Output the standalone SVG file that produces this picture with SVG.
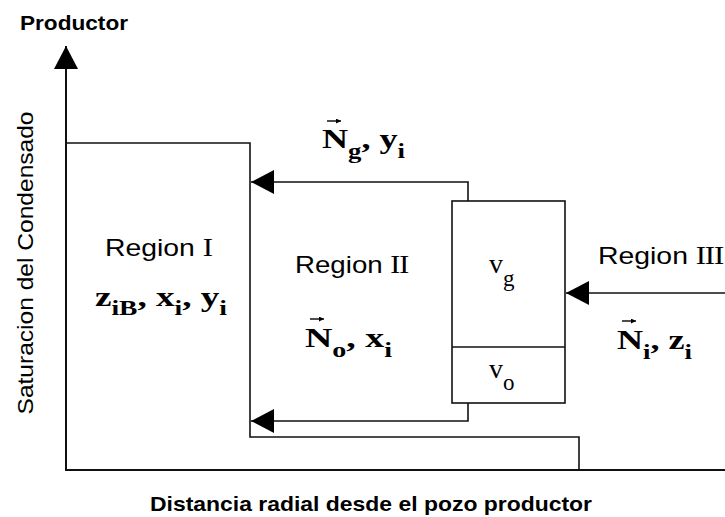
<svg xmlns="http://www.w3.org/2000/svg" width="725" height="517" viewBox="0 0 725 517">
<style>
.ax{fill:none;stroke:#111;stroke-width:2}
.ln{fill:none;stroke:#111;stroke-width:1.6}
.sans{font-family:"Liberation Sans",Arial,sans-serif;fill:#000}
.b{font-weight:bold;font-size:21px}
.reg{font-size:24px}
.rn{font-family:"Liberation Serif","Times New Roman",serif;font-size:26px}
.m{font-family:"Liberation Serif","Times New Roman",serif;font-size:27px;font-weight:bold;fill:#000}
.v{font-family:"Liberation Serif","Times New Roman",serif;font-size:28px;fill:#000}
.sub{font-size:20px;font-weight:bold}
.vsub{font-size:23px}
.vec{fill:none;stroke:#000;stroke-width:1.4}
</style>
<defs>
<marker id="ah" markerUnits="userSpaceOnUse" markerWidth="24" markerHeight="26" refX="23" refY="12" orient="auto">
<path d="M0,0 L23,12 L0,24 Z" fill="#000"/>
</marker>
<marker id="sa" markerUnits="userSpaceOnUse" markerWidth="6" markerHeight="6" refX="5" refY="2.5" orient="auto">
<path d="M0,0 L5,2.5 L0,5 Z" fill="#000"/>
</marker>
</defs>

<g id="axes">
<line class="ax" x1="66" y1="470" x2="66" y2="46" marker-end="url(#ah)"/>
<line class="ax" x1="65" y1="470" x2="725" y2="470"/>
<text class="sans b" x="20" y="30" textLength="108" lengthAdjust="spacingAndGlyphs">Productor</text>
<text class="sans b" x="150" y="511" textLength="442" lengthAdjust="spacingAndGlyphs">Distancia radial desde el pozo productor</text>
<text class="sans" font-size="22" transform="translate(33,263) rotate(-90)" x="0" y="0" text-anchor="middle" textLength="303" lengthAdjust="spacingAndGlyphs">Saturacion del Condensado</text>
</g>

<g id="region1">
<polyline class="ln" points="66,143 250,143 250,437 579,437 579,470"/>
<text class="sans reg" x="105" y="256" textLength="108" lengthAdjust="spacingAndGlyphs">Region <tspan class="rn">I</tspan></text>
<text class="m" x="95" y="306" textLength="132" lengthAdjust="spacingAndGlyphs">z<tspan class="sub" dy="9">iB</tspan><tspan dy="-9">, x</tspan><tspan class="sub" dy="9">i</tspan><tspan dy="-9">, y</tspan><tspan class="sub" dy="9">i</tspan></text>
</g>

<g id="region2">
<text class="sans reg" x="295" y="273" textLength="113" lengthAdjust="spacingAndGlyphs">Region <tspan class="rn" letter-spacing="-1">II</tspan></text>
<text class="m" x="305" y="347" textLength="87" lengthAdjust="spacingAndGlyphs">N<tspan class="sub" dy="10">o</tspan><tspan dy="-10">, x</tspan><tspan class="sub" dy="10">i</tspan></text>
<line class="vec" x1="310" y1="319" x2="324" y2="319" marker-end="url(#sa)"/>
<text class="m" x="322" y="148" textLength="83" lengthAdjust="spacingAndGlyphs">N<tspan class="sub" dy="10">g</tspan><tspan dy="-10">, y</tspan><tspan class="sub" dy="10">i</tspan></text>
<line class="vec" x1="327" y1="121" x2="341" y2="121" marker-end="url(#sa)"/>
</g>

<g id="front">
<rect class="ln" x="452" y="201" width="113" height="202"/>
<line class="ln" x1="452" y1="347" x2="565" y2="347"/>
<text class="v" x="489" y="273">v<tspan class="vsub" dy="13">g</tspan></text>
<text class="v" x="489" y="378">v<tspan class="vsub" dy="12">o</tspan></text>
</g>

<g id="region3">
<text class="sans reg" x="598" y="264" textLength="125" lengthAdjust="spacingAndGlyphs">Region <tspan class="rn" letter-spacing="-1">III</tspan></text>
<text class="m" x="617" y="349" textLength="75" lengthAdjust="spacingAndGlyphs">N<tspan class="sub" dy="10">i</tspan><tspan dy="-10">, z</tspan><tspan class="sub" dy="10">i</tspan></text>
<line class="vec" x1="622" y1="321" x2="636" y2="321" marker-end="url(#sa)"/>
</g>

<g id="connectors">
<polyline class="ln" points="468,201 468,182 251,182" marker-end="url(#ah)"/>
<polyline class="ln" points="468,403 468,421 251,421" marker-end="url(#ah)"/>
<line class="ln" x1="725" y1="293" x2="566" y2="293" marker-end="url(#ah)"/>
</g>
</svg>
